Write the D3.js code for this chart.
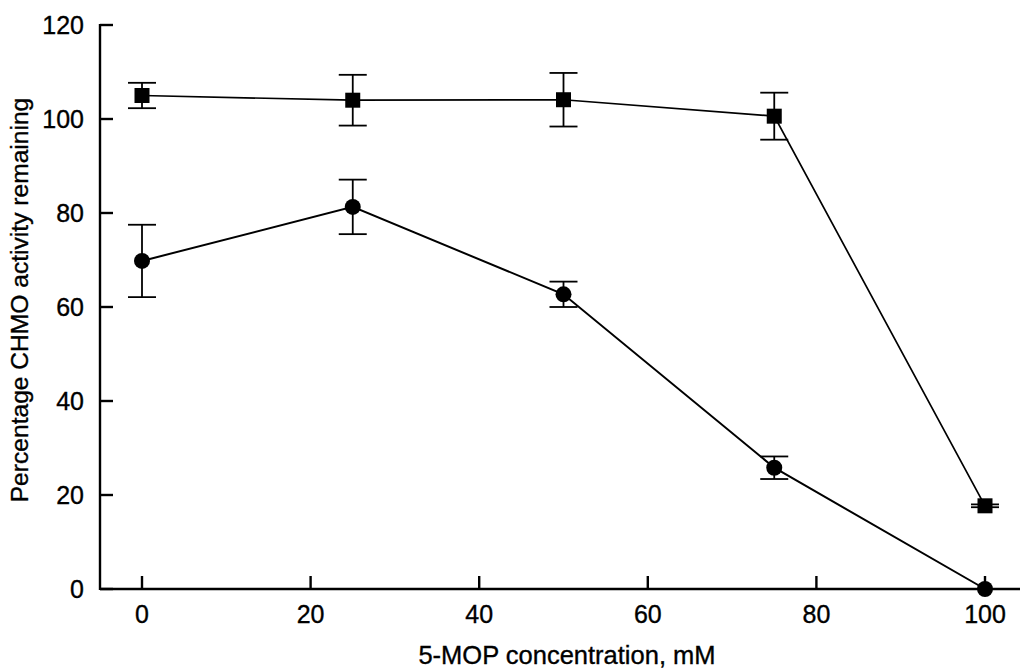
<!DOCTYPE html>
<html lang="en">
<head>
<meta charset="UTF-8">
<title>CHMO activity vs 5-MOP</title>
<style>
html,body{margin:0;width:1020px;height:672px;overflow:hidden;background:#fff;font-family:Arial, "Liberation Sans", Helvetica, sans-serif;}
svg{display:block;}
svg text{fill:#000;stroke:#000;stroke-width:0.35px;}
</style>
</head>
<body>
<svg width="1020" height="672"></svg>
<script src="https://d3js.org/d3.v7.min.js"></script>
<script>
// data
const conc = [0, 25, 50, 75, 100];
const squareVals = [105, 104, 104.1, 100.6, 17.7];
const squareErr  = [2.7, 5.4, 5.7, 5.0, 0.3];
const circleVals = [69.8, 81.3, 62.7, 25.8, 0];
const circleErr  = [7.7, 5.8, 2.7, 2.4, 0];
const xTicks = [0, 20, 40, 60, 80, 100];
const yTicks = [0, 20, 40, 60, 80, 100, 120];

const svg = d3.select("svg");
const x = d3.scaleLinear().domain([0, 100]).range([142, 985]);
const y = d3.scaleLinear().domain([0, 120]).range([589, 25]);
const axisLeftX = 100, axisRightX = 1020;

// axes, ticks point inward
const ax = svg.append("g").attr("stroke", "#000").attr("stroke-width", 2.4).attr("fill", "none");
ax.append("line").attr("x1", axisLeftX).attr("x2", axisLeftX).attr("y1", y(120) - 1).attr("y2", y(0) + 1);
ax.append("line").attr("x1", axisLeftX).attr("x2", axisRightX).attr("y1", y(0)).attr("y2", y(0));
ax.append("g").selectAll("line").data(yTicks).join("line")
  .attr("x1", axisLeftX).attr("x2", axisLeftX + 13)
  .attr("y1", d => y(d)).attr("y2", d => y(d));
ax.append("g").selectAll("line").data(xTicks).join("line")
  .attr("x1", d => x(d)).attr("x2", d => x(d))
  .attr("y1", y(0)).attr("y2", y(0) - 13);

svg.append("g").selectAll("text").data(yTicks).join("text")
  .attr("x", 84).attr("y", d => y(d)).attr("dy", "0.35em")
  .attr("text-anchor", "end").style("font-size", "25px").text(d => d);
svg.append("g").selectAll("text").data(xTicks).join("text")
  .attr("x", d => x(d)).attr("y", 623)
  .attr("text-anchor", "middle").style("font-size", "25px").text(d => d);

svg.append("text").attr("x", 567).attr("y", 664).attr("text-anchor", "middle")
  .style("font-size", "25.5px").text("5-MOP concentration, mM");
svg.append("text").attr("transform", "translate(28,300) rotate(-90)")
  .attr("text-anchor", "middle").style("font-size", "24.6px")
  .text("Percentage CHMO activity remaining");

function drawSeries(vals, errs, shape, lw) {
  const pts = conc.map((c, i) => ({x: c, v: vals[i], e: errs[i]}));
  const line = d3.line().x(d => x(d.x)).y(d => y(d.v));
  svg.append("path").datum(pts).attr("d", line)
    .attr("fill", "none").attr("stroke", "#000").attr("stroke-width", lw);
  const eb = svg.append("g").attr("stroke", "#000").attr("stroke-width", 1.8);
  pts.forEach(d => {
    if (d.e <= 0) return;
    eb.append("line").attr("x1", x(d.x)).attr("x2", x(d.x)).attr("y1", y(d.v + d.e)).attr("y2", y(d.v - d.e));
    [d.v + d.e, d.v - d.e].forEach(v => eb.append("line")
      .attr("x1", x(d.x) - 14).attr("x2", x(d.x) + 14).attr("y1", y(v)).attr("y2", y(v)));
  });
  const m = svg.append("g").attr("fill", "#000");
  if (shape === "square") {
    m.selectAll("rect").data(pts).join("rect")
      .attr("x", d => x(d.x) - 7.5).attr("y", d => y(d.v) - 7.5)
      .attr("width", 15).attr("height", 15);
  } else {
    m.selectAll("circle").data(pts).join("circle")
      .attr("cx", d => x(d.x)).attr("cy", d => y(d.v)).attr("r", 8);
  }
}
drawSeries(squareVals, squareErr, "square", 1.7);
drawSeries(circleVals, circleErr, "circle", 2);
</script>
</body>
</html>
